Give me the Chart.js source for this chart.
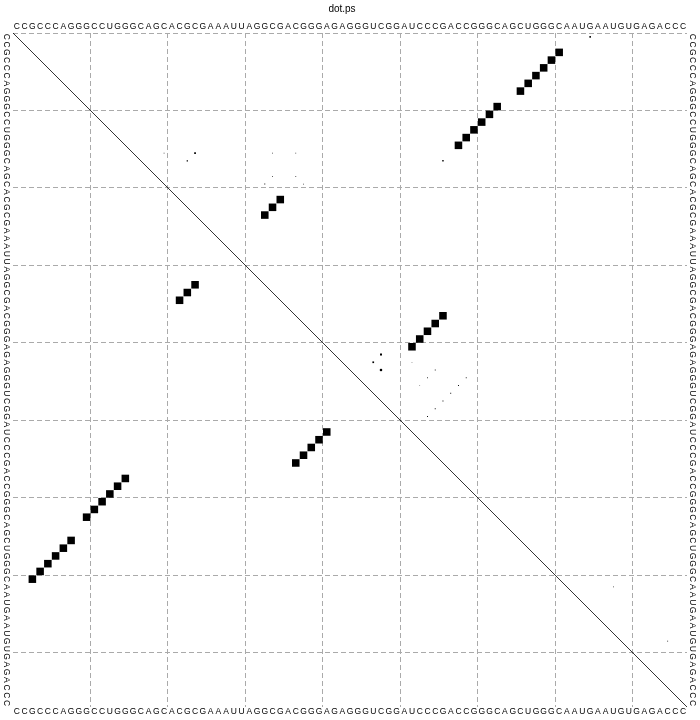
<!DOCTYPE html>
<html><head><meta charset="utf-8">
<script src="https://cdn.jsdelivr.net/npm/chart.js@4.4.1/dist/chart.umd.min.js"></script>
<style>html,body{margin:0;padding:0;background:#fff}#wrap{width:700px;height:720px}</style>
</head><body><div id="wrap"><canvas id="c" width="700" height="720"></canvas></div>
<script>
const titleText = "dot.ps";
const sequence = "CCGCCCAGGGCCUGGGCAGCACGCGAAAUUAGGCGACGGGAGAGGGUCGGAUCCCGACCGGGCAGCUGGGCAAUGAAUGUGAGACCC".split("");
const gridTicks = [10, 20, 30, 40, 50, 60, 70, 80];

// upper triangle: base pair probabilities (i < j)
const upperI = [3,4,5,6,7,8, 10,11,12,13,14,15, 22,23,24, 37,38,39,40,41,
  42,43,44, 1, 17, 16,17, 16,16,16,19,19,20,20, 46,47,48,49,50,45,44,45,43,46, 72,79];
const upperJ = [71,70,69,68,67,66, 63,62,61,60,59,58, 35,34,33, 56,55,54,53,52,
  48,47,48, 75, 56, 24,23, 20,34,37,34,37,33,38, 58,57,56,55,54,59,55,54,52,53, 78,85];
const upperP = [0.99,0.99,0.99,0.99,0.99,0.99, 0.99,0.99,0.99,0.99,0.99,0.99, 0.99,0.99,0.99, 0.99,0.99,0.99,0.99,0.99,
  0.07,0.05,0.09, 0.04, 0.035, 0.05,0.03, 0.01,0.01,0.01,0.012,0.012,0.015,0.01, 0.015,0.015,0.015,0.015,0.015,0.012,0.012,0.01,0.008,0.008, 0.01,0.015];

// lower triangle: MFE structure pairs (i < j)
const mfeI = [3,4,5,6,7,8, 10,11,12,13,14,15, 22,23,24, 37,38,39,40,41];
const mfeJ = [71,70,69,68,67,66, 63,62,61,60,59,58, 35,34,33, 56,55,54,53,52];

const N = sequence.length;
const upperData = upperI.map((v, k) => ({ x: upperJ[k], y: v, p: upperP[k] }));
const lowerData = mfeI.map((v, k) => ({ x: v, y: mfeJ[k], p: 0.99 }));

function boxRadius(ctx) {
  const ch = ctx.chart;
  const sx = ch.scales && ch.scales.x;
  let cell = 7.75;
  if (sx) cell = Math.abs(sx.getPixelForValue(1) - sx.getPixelForValue(0));
  const raw = ctx.raw || { p: 1 };
  const side = Math.sqrt(raw.p) * cell * 0.98;
  return side / (2 * Math.SQRT1_2);
}

const seqLabels = {
  id: 'seqLabels',
  afterDraw(chart) {
    const c = chart.ctx, sx = chart.scales.x, sy = chart.scales.y, a = chart.chartArea;
    c.save();
    c.fillStyle = '#000';
    c.font = "8.5px 'Liberation Sans', Arial, sans-serif";
    c.textAlign = 'center';
    c.textBaseline = 'middle';
    sequence.forEach((ch, k) => {
      const px = sx.getPixelForValue(k + 1);
      const py = sy.getPixelForValue(k + 1);
      c.fillText(ch, px, a.top - 6);
      c.fillText(ch, px, a.bottom + 5);
      c.save(); c.translate(a.left - 7, py); c.rotate(Math.PI / 2); c.fillText(ch, 0, 0); c.restore();
      c.save(); c.translate(a.right + 5, py); c.rotate(Math.PI / 2); c.fillText(ch, 0, 0); c.restore();
    });
    c.font = "10px 'Liberation Sans', Arial, sans-serif";
    c.fillText(titleText, (a.left + a.right) / 2 - 8, 9);
    c.restore();
  }
};

const dashedGrid = (withTop) => ({
  type: 'linear', min: 0.5, max: N + 0.5,
  afterBuildTicks: s => { s.ticks = (withTop ? [0.5] : []).concat(gridTicks.map(v => v + 0.5)).map(v => ({ value: v })); },
  ticks: { display: false },
  grid: { color: '#aaaaaa', lineWidth: 1, drawTicks: false, tickLength: 0 },
  border: { display: false, dash: [5, 3] }
});

const xs = dashedGrid(false);
const ys = dashedGrid(true); ys.reverse = true;

new Chart(document.getElementById('c'), {
  type: 'scatter',
  data: {
    datasets: [
      { data: [{ x: 0.5, y: 0.5 }, { x: N + 0.5, y: N + 0.5 }], showLine: true, borderColor: '#000', borderWidth: 0.8, pointRadius: 0, order: 3 },
      { data: upperData, pointStyle: 'rect', radius: boxRadius, backgroundColor: '#000', borderWidth: 0, order: 1 },
      { data: lowerData, pointStyle: 'rect', radius: boxRadius, backgroundColor: '#000', borderWidth: 0, order: 2 }
    ]
  },
  options: {
    responsive: false, animation: false, devicePixelRatio: 1, events: [],
    layout: { padding: { left: 13, right: 13, top: 33, bottom: 13 } },
    plugins: { legend: { display: false }, tooltip: { enabled: false }, title: { display: false } },
    scales: { x: xs, y: ys }
  },
  plugins: [seqLabels]
});
</script></body></html>
